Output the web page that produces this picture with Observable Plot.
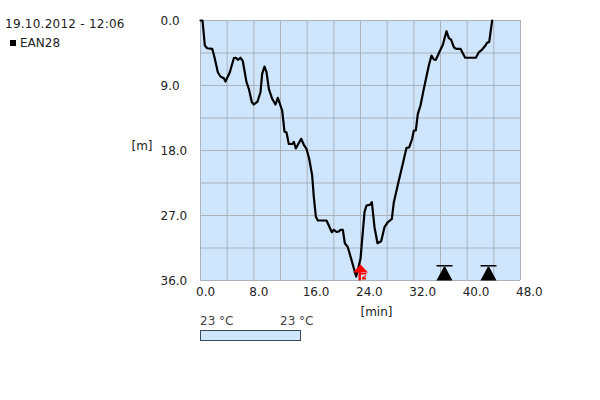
<!DOCTYPE html>
<html>
<head>
<meta charset="utf-8">
<script src="https://cdn.jsdelivr.net/npm/d3@7"></script>
<script src="https://cdn.jsdelivr.net/npm/@observablehq/plot@0.6"></script>
<style>
html,body{margin:0;padding:0;background:#fff}
#wrap{position:relative;width:600px;height:400px;font-family:"DejaVu Sans",sans-serif;font-size:12px;color:#222}
#wrap svg{display:block}
.t{position:absolute;white-space:nowrap;line-height:14px}
#sq{position:absolute;left:10px;top:40px;width:6px;height:6px;background:#000}
#bar{position:absolute;left:200px;top:330px;width:99px;height:9px;background:#cfe5fc;border:1px solid #3a4a5a}
</style>
</head>
<body>
<div id="wrap">
<div class="t" style="left:5px;top:17px;letter-spacing:.25px">19.10.2012 - 12:06</div>
<div id="sq"></div>
<div class="t" style="left:20px;top:36px">EAN28</div>
<div class="t" style="left:200px;top:314px;color:#444">23 °C</div>
<div class="t" style="left:280px;top:314px;color:#444">23 °C</div>
<div id="bar"></div>
</div>
<script>
const minutes = [0,0.3,0.65,1,1.76,2.1,2.6,3,3.5,3.75,4.4,5,5.3,5.6,6,6.35,6.9,7.25,7.7,8,8.55,9,9.25,9.6,9.9,10.25,10.75,11.25,11.6,12.25,12.6,12.9,13.25,13.8,14,14.3,15.1,15.5,15.9,16.3,16.75,17,17.3,17.6,18.9,19.25,19.7,20,20.4,20.75,21,21.35,21.65,22.1,22.6,23.35,24,24.6,24.9,25.4,25.7,26.1,26.55,27.1,27.6,28.1,28.7,29,29.75,30.4,30.9,31.3,31.75,32,32.3,32.6,33,33.5,34.25,34.65,35,35.3,35.75,36.35,36.9,37.25,37.6,38,38.35,39,39.7,41.3,41.75,42.25,42.75,43,43.3,43.75];
const depths = [0,0,3.46,3.84,3.92,5.08,7.16,7.75,7.99,8.45,7.16,5.22,5.16,5.44,5.16,5.64,8.54,9.46,11.31,11.63,11.22,9.93,7.38,6.37,7.16,9.46,10.84,11.63,10.7,12.46,15.37,15.51,17.1,17.07,16.8,17.72,16.38,17.21,17.76,19.15,21.46,24.47,27.14,27.69,27.69,28.38,29.31,28.98,29.26,29.22,28.98,28.98,30.84,31.39,33,35.45,33,26.54,25.62,25.52,25.16,28.62,30.84,30.56,28.62,27.93,27.46,25.16,22.15,19.62,17.63,17.58,16.38,15.23,15.23,12.92,11.77,9.46,6.23,4.85,5.4,5.44,4.53,3.36,1.48,2.45,2.67,3.7,3.92,3.92,5.16,5.16,4.39,4.02,3.46,3.05,3,0];
const xTicks = [0,8,16,24,32,40,48];
const yTicks = [0,9,18,27,36];
const xGrid = [0,4,8,12,16,20,24,28,32,36,40,44,48];
const yGrid = [0,4.5,9,13.5,18,22.5,27,31.5,36];
const blackMarks = [36.6,43.2];
const redMarks = [24];
const maxDepth = 36;

const profile = minutes.map((t,i)=>({t,d:depths[i]}));

const blackSymbol = {draw(c){
  c.moveTo(-8,0);c.lineTo(8,0);c.lineTo(0,-15);c.closePath();
  c.moveTo(-8,-15.5);c.lineTo(8,-15.5);c.lineTo(8,-14);c.lineTo(-8,-14);c.closePath();
}};
const redSymbol = {draw(c){
  c.moveTo(-7.5,-8);c.lineTo(0,-16);c.lineTo(7.5,-8);c.closePath();
  c.moveTo(-2,-8.5);c.lineTo(0.5,-8.5);c.lineTo(0.5,0);c.lineTo(-2,0);c.closePath();
  c.moveTo(0.5,-7.5);c.lineTo(6,-7.5);c.lineTo(6,-6);c.lineTo(0.5,-6);c.closePath();
  c.moveTo(1.5,-3);c.lineTo(5.5,-5.5);c.lineTo(5.5,-4.2);c.lineTo(3.5,-2.8);c.lineTo(5.5,-2.8);c.lineTo(5.5,-1);c.lineTo(1.5,-1);c.closePath();
}};

const chart = Plot.plot({
  width:600,height:400,
  marginLeft:200,marginRight:80,marginTop:20,marginBottom:120,
  style:{fontFamily:"DejaVu Sans",fontSize:"12px",color:"#222",background:"transparent",overflow:"visible"},
  x:{domain:[0,48]},
  y:{domain:[0,36],reverse:true},
  marks:[
    Plot.frame({fill:"#cfe5fc",stroke:null}),
    Plot.gridX(xGrid,{stroke:"#aab2bc",strokeOpacity:1}),
    Plot.gridY(yGrid,{stroke:"#aab2bc",strokeOpacity:1}),
    Plot.axisX(xTicks,{tickSize:0,tickPadding:0,tickFormat:d3.format(".1f"),textAnchor:"start",dx:-4.5,dy:7,label:null}),
    Plot.axisY(yTicks,{tickSize:0,tickPadding:0,tickFormat:d3.format(".1f"),textAnchor:"start",dx:-40,dy:1,label:null}),
    Plot.line(profile,{x:"t",y:"d",stroke:"#000",strokeWidth:2.2,strokeLinejoin:"round",curve:"linear"}),
    Plot.dot(blackMarks,{x:d=>d,y:()=>maxDepth,symbol:blackSymbol,fill:"#000",stroke:null,r:5}),
    Plot.dot(redMarks,{x:d=>d,y:()=>maxDepth,symbol:redSymbol,fill:"#f00",stroke:null,r:5}),
    Plot.text(["[m]"],{frameAnchor:"left",dx:-69,dy:-4,fill:"#222"}),
    Plot.text(["[min]"],{frameAnchor:"bottom",dx:16,dy:35,fill:"#222"})
  ]
});
document.getElementById("wrap").prepend(chart);
chart.style.position="absolute";chart.style.left="0";chart.style.top="0";
</script>
</body>
</html>
